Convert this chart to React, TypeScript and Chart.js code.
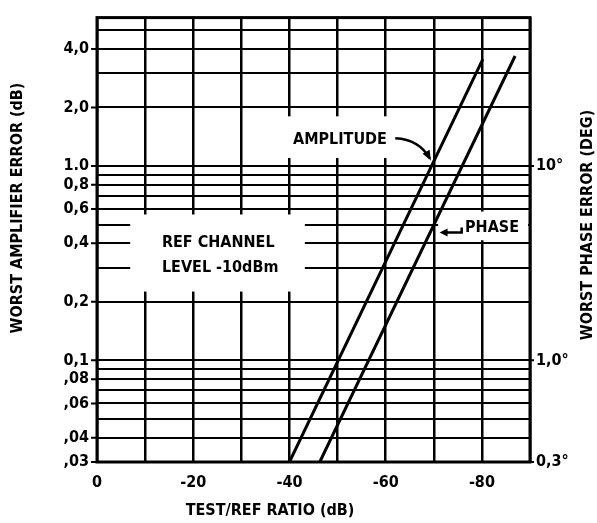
import React, { useEffect, useRef } from "react";
import { Chart, registerables } from "chart.js";

Chart.register(...registerables);

// ---- data ----
const xGridValues = [0, -10, -20, -30, -40, -50, -60, -70, -80, -90];
const xTickValues = [0, -20, -40, -60, -80];
const xTickLabels = ["0", "-20", "-40", "-60", "-80"];

const yGridValues = [0.03, 0.04, 0.05, 0.06, 0.07, 0.08, 0.09, 0.1, 0.2, 0.3, 0.4, 0.5, 0.6, 0.7, 0.8, 0.9, 1, 2, 3, 4, 5];
const yTickValues = [4, 2, 1, 0.8, 0.6, 0.4, 0.2, 0.1, 0.08, 0.06, 0.04, 0.03];
const yTickLabels = ["4,0", "2,0", "1.0", "0,8", "0,6", "0,4", "0,2", "0,1", ",08", ",06", ",04", ",03"];

const phaseTickValues = [10, 1, 0.3];
const phaseTickLabels = ["10°", "1,0°", "0,3°"];

const amplitudeX = [-40, -80.2];
const amplitudeY = [0.03, 3.55];
const phaseX = [-46.3, -86.9];
const phaseY = [0.03, 3.68];

const FONT = '"DejaVu Sans Condensed", "DejaVu Sans", sans-serif';

function findLabel(values: number[], labels: string[], v: number) {
  for (let i = 0; i < values.length; i++) {
    if (Math.abs(values[i] - v) < 1e-6 * Math.max(1, Math.abs(v))) return labels[i];
  }
  return "";
}

const annotPlugin = {
  id: "annot",
  beforeDatasetsDraw(chart: any) {
    const ctx = chart.ctx;
    const xs = chart.scales.x;
    const ys = chart.scales.y;
    const px = (v: number) => xs.getPixelForValue(v);
    const py = (v: number) => ys.getPixelForValue(v);
    ctx.save();
    ctx.fillStyle = "#fff";
    const boxes = [
      [-6.9, -43.2, 0.563, 0.226], // ref channel
      [-38, -63, 1.8, 1.1], // amplitude
      [-70.9, -89.6, 0.583, 0.415], // phase
    ];
    for (const b of boxes) {
      const x1 = px(b[0]), x2 = px(b[1]), y1 = py(b[2]), y2 = py(b[3]);
      ctx.fillRect(Math.min(x1, x2), Math.min(y1, y2), Math.abs(x2 - x1), Math.abs(y2 - y1));
    }
    ctx.fillStyle = "#000";
    ctx.font = `bold 16px ${FONT}`;
    ctx.textBaseline = "middle";
    ctx.textAlign = "left";
    ctx.fillText("REF CHANNEL", px(-13.5), py(0.4));
    ctx.fillText("LEVEL -10dBm", px(-13.5), py(0.3));
    ctx.textAlign = "center";
    ctx.fillText("AMPLITUDE", px(-50.5), py(1.37));
    ctx.textAlign = "left";
    ctx.fillText("PHASE", px(-76.5), py(0.478));
    ctx.restore();
  },
  afterDatasetsDraw(chart: any) {
    const ctx = chart.ctx;
    const xs = chart.scales.x;
    const ys = chart.scales.y;
    const y2s = chart.scales.y2;
    const px = (v: number) => xs.getPixelForValue(v);
    const py = (v: number) => ys.getPixelForValue(v);
    const a = chart.chartArea;
    ctx.save();
    ctx.strokeStyle = "#000";
    ctx.fillStyle = "#000";
    // frame
    ctx.lineWidth = 3;
    ctx.strokeRect(a.left, a.top, a.right - a.left, a.bottom - a.top);
    // short tick stubs at labelled values
    ctx.lineWidth = 2;
    ctx.beginPath();
    for (const v of yTickValues) {
      const y = py(v);
      ctx.moveTo(a.left - 6, y);
      ctx.lineTo(a.left, y);
    }
    for (const v of phaseTickValues) {
      const y = y2s.getPixelForValue(v);
      ctx.moveTo(a.right, y);
      ctx.lineTo(a.right + 4, y);
    }
    ctx.stroke();
    // amplitude arrow (curved)
    ctx.lineWidth = 2.5;
    const sx = px(-62), sy = py(1.39);
    const ex = px(-69.2), ey = py(1.09);
    const cx = px(-67), cy = py(1.37);
    ctx.beginPath();
    ctx.moveTo(sx, sy);
    ctx.quadraticCurveTo(cx, cy, ex, ey);
    ctx.stroke();
    const ang = Math.atan2(ey - cy, ex - cx);
    ctx.beginPath();
    ctx.moveTo(ex + 2 * Math.cos(ang), ey + 2 * Math.sin(ang));
    ctx.lineTo(ex - 8 * Math.cos(ang) + 4 * Math.sin(ang), ey - 8 * Math.sin(ang) - 4 * Math.cos(ang));
    ctx.lineTo(ex - 8 * Math.cos(ang) - 4 * Math.sin(ang), ey - 8 * Math.sin(ang) + 4 * Math.cos(ang));
    ctx.closePath();
    ctx.fill();
    // phase arrow
    const py0 = py(0.455);
    const x0 = px(-75.8), x1 = px(-71.2);
    ctx.beginPath();
    ctx.moveTo(x0, py0 - 5);
    ctx.lineTo(x0, py0);
    ctx.lineTo(x1 + 6, py0);
    ctx.stroke();
    ctx.beginPath();
    ctx.moveTo(x1, py0);
    ctx.lineTo(x1 + 8, py0 - 4);
    ctx.lineTo(x1 + 8, py0 + 4);
    ctx.closePath();
    ctx.fill();
    ctx.restore();
  },
  afterDraw(chart: any) {
    const ctx = chart.ctx;
    ctx.save();
    ctx.fillStyle = "#000";
    ctx.font = `bold 16px ${FONT}`;
    ctx.textAlign = "center";
    ctx.textBaseline = "middle";
    ctx.fillText("TEST/REF RATIO (dB)", 270, 511);
    ctx.save();
    ctx.translate(18, 208);
    ctx.rotate(-Math.PI / 2);
    ctx.fillText("WORST AMPLIFIER ERROR (dB)", 0, 0);
    ctx.restore();
    ctx.save();
    ctx.translate(588, 225);
    ctx.rotate(-Math.PI / 2);
    ctx.fillText("WORST PHASE ERROR (DEG)", 0, 0);
    ctx.restore();
    ctx.restore();
  },
};

export default function App() {
  const ref = useRef<HTMLCanvasElement>(null);
  useEffect(() => {
    const canvas = ref.current!;
    const tickFont = { family: FONT, weight: "bold" as const, size: 16 };
    const chart = new Chart(canvas, {
      type: "line",
      data: {
        datasets: [
          {
            label: "AMPLITUDE",
            data: amplitudeX.map((x, i) => ({ x, y: amplitudeY[i] })),
            borderColor: "#000",
            borderWidth: 3,
            pointRadius: 0,
            fill: false,
            yAxisID: "y",
          },
          {
            label: "PHASE",
            data: phaseX.map((x, i) => ({ x, y: phaseY[i] })),
            borderColor: "#000",
            borderWidth: 3,
            pointRadius: 0,
            fill: false,
            yAxisID: "y",
          },
        ],
      },
      options: {
        animation: false,
        responsive: false,
        devicePixelRatio: 1,
        layout: { padding: { top: 13, left: 0, right: 0, bottom: 0 } },
        plugins: { legend: { display: false }, tooltip: { enabled: false } },
        scales: {
          x: {
            type: "linear",
            min: -90,
            max: 0,
            reverse: true,
            afterBuildTicks: (s: any) => {
              s.ticks = xGridValues.map((v) => ({ value: v }));
            },
            afterFit: (s: any) => {
              s.height = 61;
            },
            grid: { color: "#000", lineWidth: 2.5, drawTicks: false },
            border: { display: false },
            ticks: {
              autoSkip: false,
              maxRotation: 0,
              padding: 11,
              color: "#000",
              font: tickFont,
              callback: (v: any) => findLabel(xTickValues, xTickLabels, Number(v)),
            },
          },
          y: {
            type: "logarithmic",
            position: "left",
            min: 0.03,
            max: 5.8,
            afterBuildTicks: (s: any) => {
              s.ticks = yGridValues.map((v) => ({ value: v }));
            },
            afterFit: (s: any) => {
              s.width = 97;
            },
            grid: { color: "#000", lineWidth: 2, drawTicks: false },
            border: { display: false },
            ticks: {
              autoSkip: false,
              padding: 8,
              color: "#000",
              font: tickFont,
              callback: (v: any) => findLabel(yTickValues, yTickLabels, Number(v)),
            },
          },
          y2: {
            type: "logarithmic",
            position: "right",
            min: 0.3,
            max: 58,
            afterBuildTicks: (s: any) => {
              s.ticks = phaseTickValues.map((v) => ({ value: v }));
            },
            afterFit: (s: any) => {
              s.width = 67;
            },
            grid: { display: false, drawTicks: false },
            border: { display: false },
            ticks: {
              autoSkip: false,
              padding: 6,
              color: "#000",
              font: tickFont,
              callback: (v: any) => findLabel(phaseTickValues, phaseTickLabels, Number(v)),
            },
          },
        },
      },
      plugins: [annotPlugin],
    } as any);
    return () => chart.destroy();
  }, []);
  return (
    <div style={{ position: "fixed", left: 0, top: 0, width: 597, height: 523, background: "#fff" }}>
      <canvas ref={ref} width={597} height={523} style={{ display: "block", width: 597, height: 523 }} />
    </div>
  );
}
